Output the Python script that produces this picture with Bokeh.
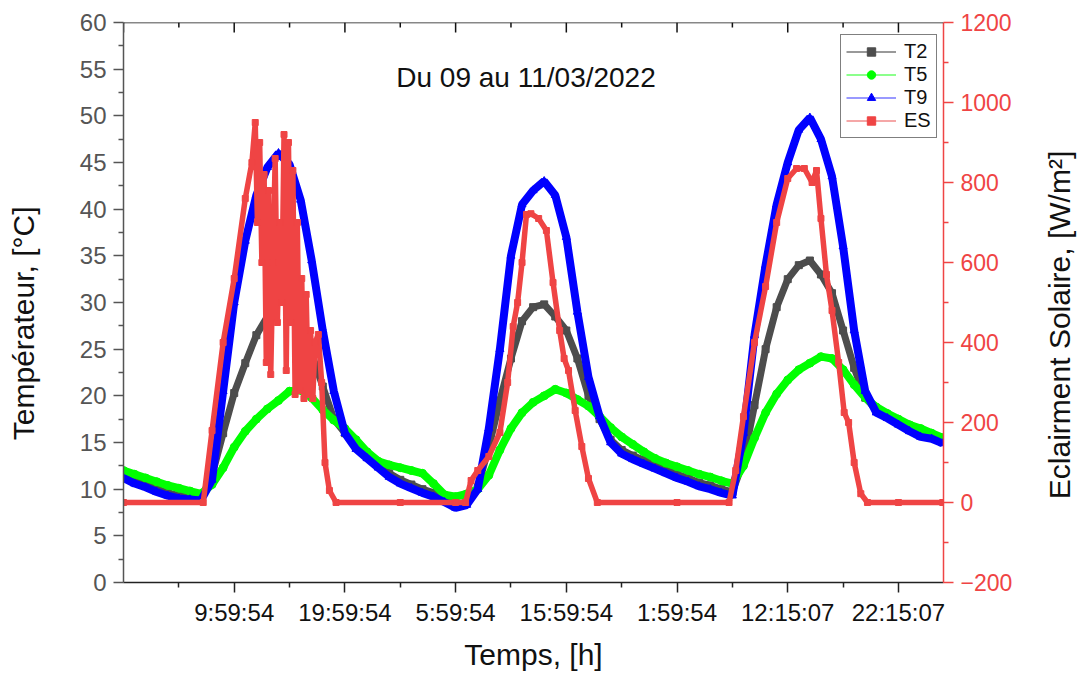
import math
from bokeh.plotting import figure
from bokeh.models import Range1d, LinearAxis, FixedTicker, Legend, LegendItem, Label, Span
from bokeh.embed import file_html
from bokeh.resources import INLINE

# ---------------- data ----------------
hours = list(range(75))

t2 = [11.5, 10.9, 10.5, 10.0, 9.6, 9.3, 9.2, 9.0, 11.5, 16.0,
      20.3, 23.5, 26.5, 28.5, 30.5, 29.8, 28.0, 24.5, 21.0, 17.5,
      16.0, 14.6, 13.6, 12.6, 11.7, 11.0, 10.5, 10.0, 9.6, 9.0,
      8.4, 8.6, 10.2, 14.5, 19.5, 24.0, 28.0, 29.5, 29.8, 28.5,
      27.0, 24.0, 20.0, 17.5, 15.3, 14.2, 13.6, 13.1, 12.6, 12.1,
      11.6, 11.2, 10.7, 10.4, 10.0, 9.7, 13.0, 19.0, 25.0, 29.5,
      32.5, 34.0, 34.5, 33.0, 31.0, 27.0, 23.0, 19.8, 18.5, 17.9,
      17.2, 16.5, 15.9, 15.7, 15.2]

t5 = [12.0, 11.6, 11.2, 10.8, 10.4, 10.1, 9.8, 9.5, 10.5, 12.3,
      14.5, 16.2, 17.5, 18.6, 19.5, 20.5, 20.6, 19.8, 18.5, 17.4,
      16.5, 15.3, 14.0, 13.0, 12.6, 12.3, 12.0, 11.7, 10.6, 9.4,
      9.2, 9.5, 10.0, 11.5, 14.2, 16.5, 18.2, 19.3, 20.0, 20.7,
      20.3, 19.6, 18.9, 17.8, 16.6, 15.6, 14.8, 14.0, 13.3, 12.8,
      12.4, 12.0, 11.6, 11.3, 10.9, 10.6, 12.5, 15.5, 18.2, 20.2,
      21.7, 22.8, 23.5, 24.2, 24.0, 22.8, 21.2, 19.8, 18.8, 18.1,
      17.5, 16.9, 16.5, 16.0, 15.5]

t9 = [11.2, 10.6, 10.2, 9.7, 9.3, 9.0, 8.9, 8.8, 11.0, 20.5,
      30.0, 36.6, 41.5, 44.5, 46.0, 44.8, 41.0, 34.5, 27.0, 20.5,
      16.0, 14.3, 13.3, 12.3, 11.3, 10.6, 10.1, 9.6, 9.2, 8.6,
      8.0, 8.3, 10.0, 16.5, 25.0, 35.0, 40.5, 42.0, 43.0, 41.5,
      37.0, 29.0, 22.0, 17.8, 15.0, 13.8, 13.2, 12.7, 12.2, 11.7,
      11.2, 10.8, 10.3, 10.0, 9.6, 9.3, 16.0, 26.5, 34.0, 40.5,
      45.0, 48.5, 49.8, 47.5, 43.5, 36.0, 27.0, 20.5, 18.2, 17.6,
      16.9, 16.2, 15.6, 15.4, 14.9]

es_t = [0, 7.2, 8.0, 9.0, 10.0, 11.0, 11.6, 11.9, 12.1, 12.3,
        12.5, 12.7, 12.9, 13.1, 13.3, 13.5, 13.7, 13.9, 14.1, 14.3,
        14.5, 14.7, 14.9, 15.1, 15.3, 15.5, 15.7, 15.9, 16.1, 16.3,
        16.5, 16.7, 16.9, 17.1, 17.3, 17.6, 17.9, 18.2, 18.6, 19.2,
        25, 30, 30.9, 31.4, 32, 33, 34, 34.7, 35.2, 35.6,
        36, 36.4, 36.8, 37.5, 38.2, 38.8, 39.4, 39.8, 40.2, 40.8,
        41.4, 42, 42.8, 50, 54.7, 55.3, 56, 57, 58, 59,
        60, 60.8, 61.5, 62.2, 62.6, 63, 63.5, 64, 64.6, 65.1,
        65.5, 66, 66.6, 67.2, 70, 74]

es = [0, 0, 180, 400, 560, 760, 850, 950, 700, 900,
      600, 820, 350, 780, 320, 600, 860, 450, 700, 500,
      920, 330, 900, 450, 830, 270, 700, 280, 560, 260,
      520, 270, 430, 260, 400, 420, 300, 100, 30, 0,
      0, 0, 0, 55, 80, 115, 175, 300, 440, 500,
      600, 720, 722, 710, 680, 550, 430, 360, 330, 230,
      140, 60, 0, 0, 0, 80, 215, 400, 540, 700,
      810, 835, 835, 800, 830, 710, 570, 480, 350, 225,
      200, 100, 22, 0, 0, 0]

x_ticks = [10, 20, 30, 40, 50, 60, 70]
x_labels = ["9:59:54", "19:59:54", "5:59:54", "15:59:54",
            "1:59:54", "12:15:07", "22:15:07"]
x_minor = [5, 15, 25, 35, 45, 55, 65]
t_ticks = [0, 5, 10, 15, 20, 25, 30, 35, 40, 45, 50, 55, 60]
t_minor = [2.5, 7.5, 12.5, 17.5, 22.5, 27.5, 32.5, 37.5, 42.5, 47.5, 52.5, 57.5]
es_ticks = [-200, 0, 200, 400, 600, 800, 1000, 1200]
es_minor = [-100, 100, 300, 500, 700, 900, 1100]

# ---------------- figure ----------------
FONT = "Liberation Sans"
GRAY = "#4d4d4d"
GREEN = "#00ff00"
BLUE = "#0000ff"
RED = "#ef4444"
NB = "\u00a0"

T_MAX = 60
p = figure(frame_width=820, frame_height=560,
           x_range=Range1d(0, 74.07), y_range=Range1d(0, T_MAX),
           x_axis_location=None, y_axis_location=None,
           output_backend="svg", toolbar_location=None,
           min_border_left=123, min_border_right=139,
           min_border_top=22, min_border_bottom=85)
p.extra_y_ranges = {"es": Range1d(-200, 1200)}
p.grid.visible = False
p.outline_line_color = None
p.background_fill_color = "white"
p.border_fill_color = "white"

yl = LinearAxis(ticker=FixedTicker(ticks=t_ticks, minor_ticks=t_minor),
                axis_label="Températeur, [°C]" + NB * 5)
yr = LinearAxis(y_range_name="es",
                ticker=FixedTicker(ticks=es_ticks, minor_ticks=es_minor),
                axis_label=NB * 10 + "Eclairment Solaire, [W/m²]")
xb = LinearAxis(ticker=FixedTicker(ticks=x_ticks, minor_ticks=x_minor),
                axis_label="Temps, [h]",
                major_label_overrides={t: l for t, l in zip(x_ticks, x_labels)})

for ax in (yl, yr, xb):
    ax.major_tick_in = 0
    ax.major_tick_out = 10
    ax.minor_tick_in = 0
    ax.minor_tick_out = 5
    ax.axis_line_width = 1.5
    ax.major_tick_line_width = 1.5
    ax.minor_tick_line_width = 1.5
    ax.major_label_text_font = FONT
    ax.major_label_text_font_size = "23px"
    ax.axis_label_text_font = FONT
    ax.axis_label_text_font_size = "30px"
    ax.axis_label_text_font_style = "normal"
    ax.axis_label_text_color = "#111111"
    ax.major_label_standoff = 7

yl.axis_line_color = "#555555"
yl.major_tick_line_color = "#555555"
yl.minor_tick_line_color = "#555555"
yl.major_label_text_color = "#555555"
yl.major_label_text_font_size = "24px"
yl.axis_label_standoff = 37

yr.axis_line_color = RED
yr.major_tick_line_color = RED
yr.minor_tick_line_color = RED
yr.major_label_text_color = RED
yr.axis_label_standoff = 44
yr.axis_label_orientation = math.pi / 2
yr.axis_label_align = "start"

xb.axis_line_color = "#222222"
xb.major_tick_line_color = "#222222"
xb.minor_tick_line_color = "#222222"
xb.major_label_text_color = "#111111"
xb.major_label_text_font_size = "24px"
xb.major_label_standoff = 6
xb.axis_label_standoff = 9

p.add_layout(yl, "left")
p.add_layout(yr, "right")
p.add_layout(xb, "below")

# top frame line with inward ticks
p.add_layout(Span(location=T_MAX, dimension="width", line_color="#111111", line_width=1.5))
top_major = [0] + x_ticks
p.segment(x0=top_major, y0=[T_MAX] * len(top_major), x1=top_major,
          y1=[T_MAX - 10 / 9.333] * len(top_major), line_color="#111111", line_width=1.5)
p.segment(x0=x_minor, y0=[T_MAX] * len(x_minor), x1=x_minor,
          y1=[T_MAX - 5 / 9.333] * len(x_minor), line_color="#111111", line_width=1.5)

# ---------------- data series ----------------
p.line(hours, t2, line_color=GRAY, line_width=7)
p.scatter(hours, t2, marker="square", size=7, color=GRAY)
p.line(hours, t5, line_color=GREEN, line_width=8)
p.scatter(hours, t5, marker="circle", size=8, color=GREEN)
p.line(hours, t9, line_color=BLUE, line_width=8)
p.scatter(hours, t9, marker="triangle", size=8, color=BLUE)
p.line(es_t, es, line_color=RED, line_width=5.5, y_range_name="es")
p.scatter(es_t, es, marker="square", size=6, color=RED, y_range_name="es")

# ---------------- legend (sample glyphs, off-range dummy points) ----------------
items = []
for name, col, lcol, mk in (("T2", GRAY, "#777777", "square"),
                             ("T5", GREEN, "#66ff66", "circle"),
                             ("T9", BLUE, "#7777ff", "triangle"),
                             ("ES", RED, "#f28a8a", "square")):
    lr = p.line([-50, -49], [-50, -50], line_color=lcol, line_width=1.5)
    sr = p.scatter([-50], [-50], marker=mk, size=8, color=col)
    items.append(LegendItem(label=name, renderers=[lr, sr]))

legend = Legend(items=items, location=(717, 444),
                border_line_color="black", border_line_width=1,
                background_fill_color="white", background_fill_alpha=1,
                padding=5, spacing=0, margin=0,
                label_height=21, glyph_height=21, glyph_width=50,
                label_standoff=8,
                label_text_font=FONT, label_text_font_size="20px",
                label_text_color="#111111")
p.add_layout(legend, "center")

# ---------------- title text ----------------
p.add_layout(Label(x=36.36, y=54.1, text="Du 09 au 11/03/2022",
                   text_align="center", text_baseline="alphabetic",
                   text_font=FONT, text_font_size="28px",
                   text_color="#111111"))

open("out.html", "w").write(file_html(p, INLINE))
